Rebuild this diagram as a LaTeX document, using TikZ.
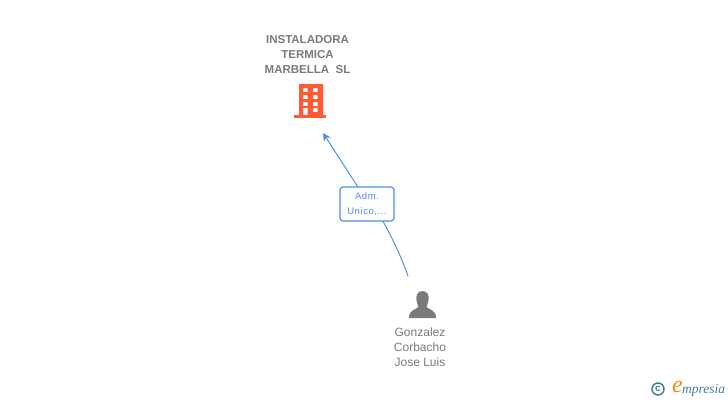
\documentclass[tikz,border=0pt]{standalone}
\usepackage{fontspec}
\usepackage{xcolor}
\setmainfont{Liberation Sans}
\newfontfamily\spacedfont[LetterSpace=6]{Liberation Sans}
\newfontfamily\logofont{Liberation Serif}
\definecolor{namegrey}{HTML}{7A7A7A}
\definecolor{linkblue}{HTML}{4C8FEA}
\definecolor{buildred}{HTML}{FF5A33}
\definecolor{logoteal}{HTML}{3F8199}
\definecolor{logoorange}{HTML}{F28A1E}
\usetikzlibrary{positioning, arrows.meta}

\begin{document}
\begin{tikzpicture}[
            x=1pt, y=-1pt,
            every node/.style={inner sep=0pt, outer sep=0pt},
            company/.style={align=center, font=\fontsize{11.5}{15}\selectfont\bfseries, text=namegrey},
            person/.style={align=center, font=\fontsize{12}{15}\selectfont, text=namegrey},
            role/.style={draw=linkblue, line width=1.2pt, rounded corners=3pt, fill=white, align=center,
                minimum width=54pt, minimum height=34pt, text=linkblue,
                font=\spacedfont\fontsize{9.5}{15}\selectfont},
            link/.style={draw=linkblue, line width=1pt},
        ]
            \useasboundingbox (0,0) rectangle (728,400);

            \node[company] (companyname) at (307.5,55) {INSTALADORA\\TERMICA\\MARBELLA\ \ SL};
            \node[person] (personname) at (420,347) {Gonzalez\\Corbacho\\Jose Luis};

            % building
            \fill[buildred, even odd rule] (299,84) rectangle (323,115)
                (303,88) rectangle (307.5,92) (313,88) rectangle (317.5,92)
                (303,95) rectangle (307.5,99) (313,95) rectangle (317.5,99)
                (303,102) rectangle (307.5,106) (313,102) rectangle (317.5,106)
                (303,108) rectangle (307.5,115) (313,108) rectangle (317.5,112);
            \fill[buildred] (294,115) rectangle (326,118);

            % person
            \fill[namegrey] (422.5,291) .. controls (417,291) and (416,296) .. (416.5,300)
                .. controls (417,304) and (418,305) .. (418.5,307)
                .. controls (415,310) and (409,310) .. (409,318)
                -- (436,318)
                .. controls (436,310) and (430,310) .. (426.5,307)
                .. controls (427,305) and (428,304) .. (428.5,300)
                .. controls (429,296) and (428,291) .. (422.5,291) -- cycle;

            % connector
            \coordinate (personend) at (408,276);
            \coordinate (companyend) at (323,133);
            \node[role] (adm) at (367,204) {\rule{0pt}{8pt}Adm.\\Unico,...};
            \draw[link] (personend) .. controls (399,251) and (391,236) .. (adm.-47);
            \draw[link, -{Stealth[length=8pt, width=8pt]}] (adm.118) -- (companyend);

            % logo
            \node[draw=logoteal, circle, line width=1.5pt, minimum size=12pt, text=logoteal,
                font=\fontsize{10}{10}\selectfont\bfseries] (copyrightmark) at (658,389) {c};
            \node[text=logoorange, font=\logofont\itshape\fontsize{24}{24}\selectfont] (logoe) at (677.5,387) {e};
            \node[text=logoteal, anchor=west, font=\logofont\itshape\fontsize{13.5}{14}\selectfont] (logoword) at (682,390) {mpresia};
        \end{tikzpicture}
\end{document}
